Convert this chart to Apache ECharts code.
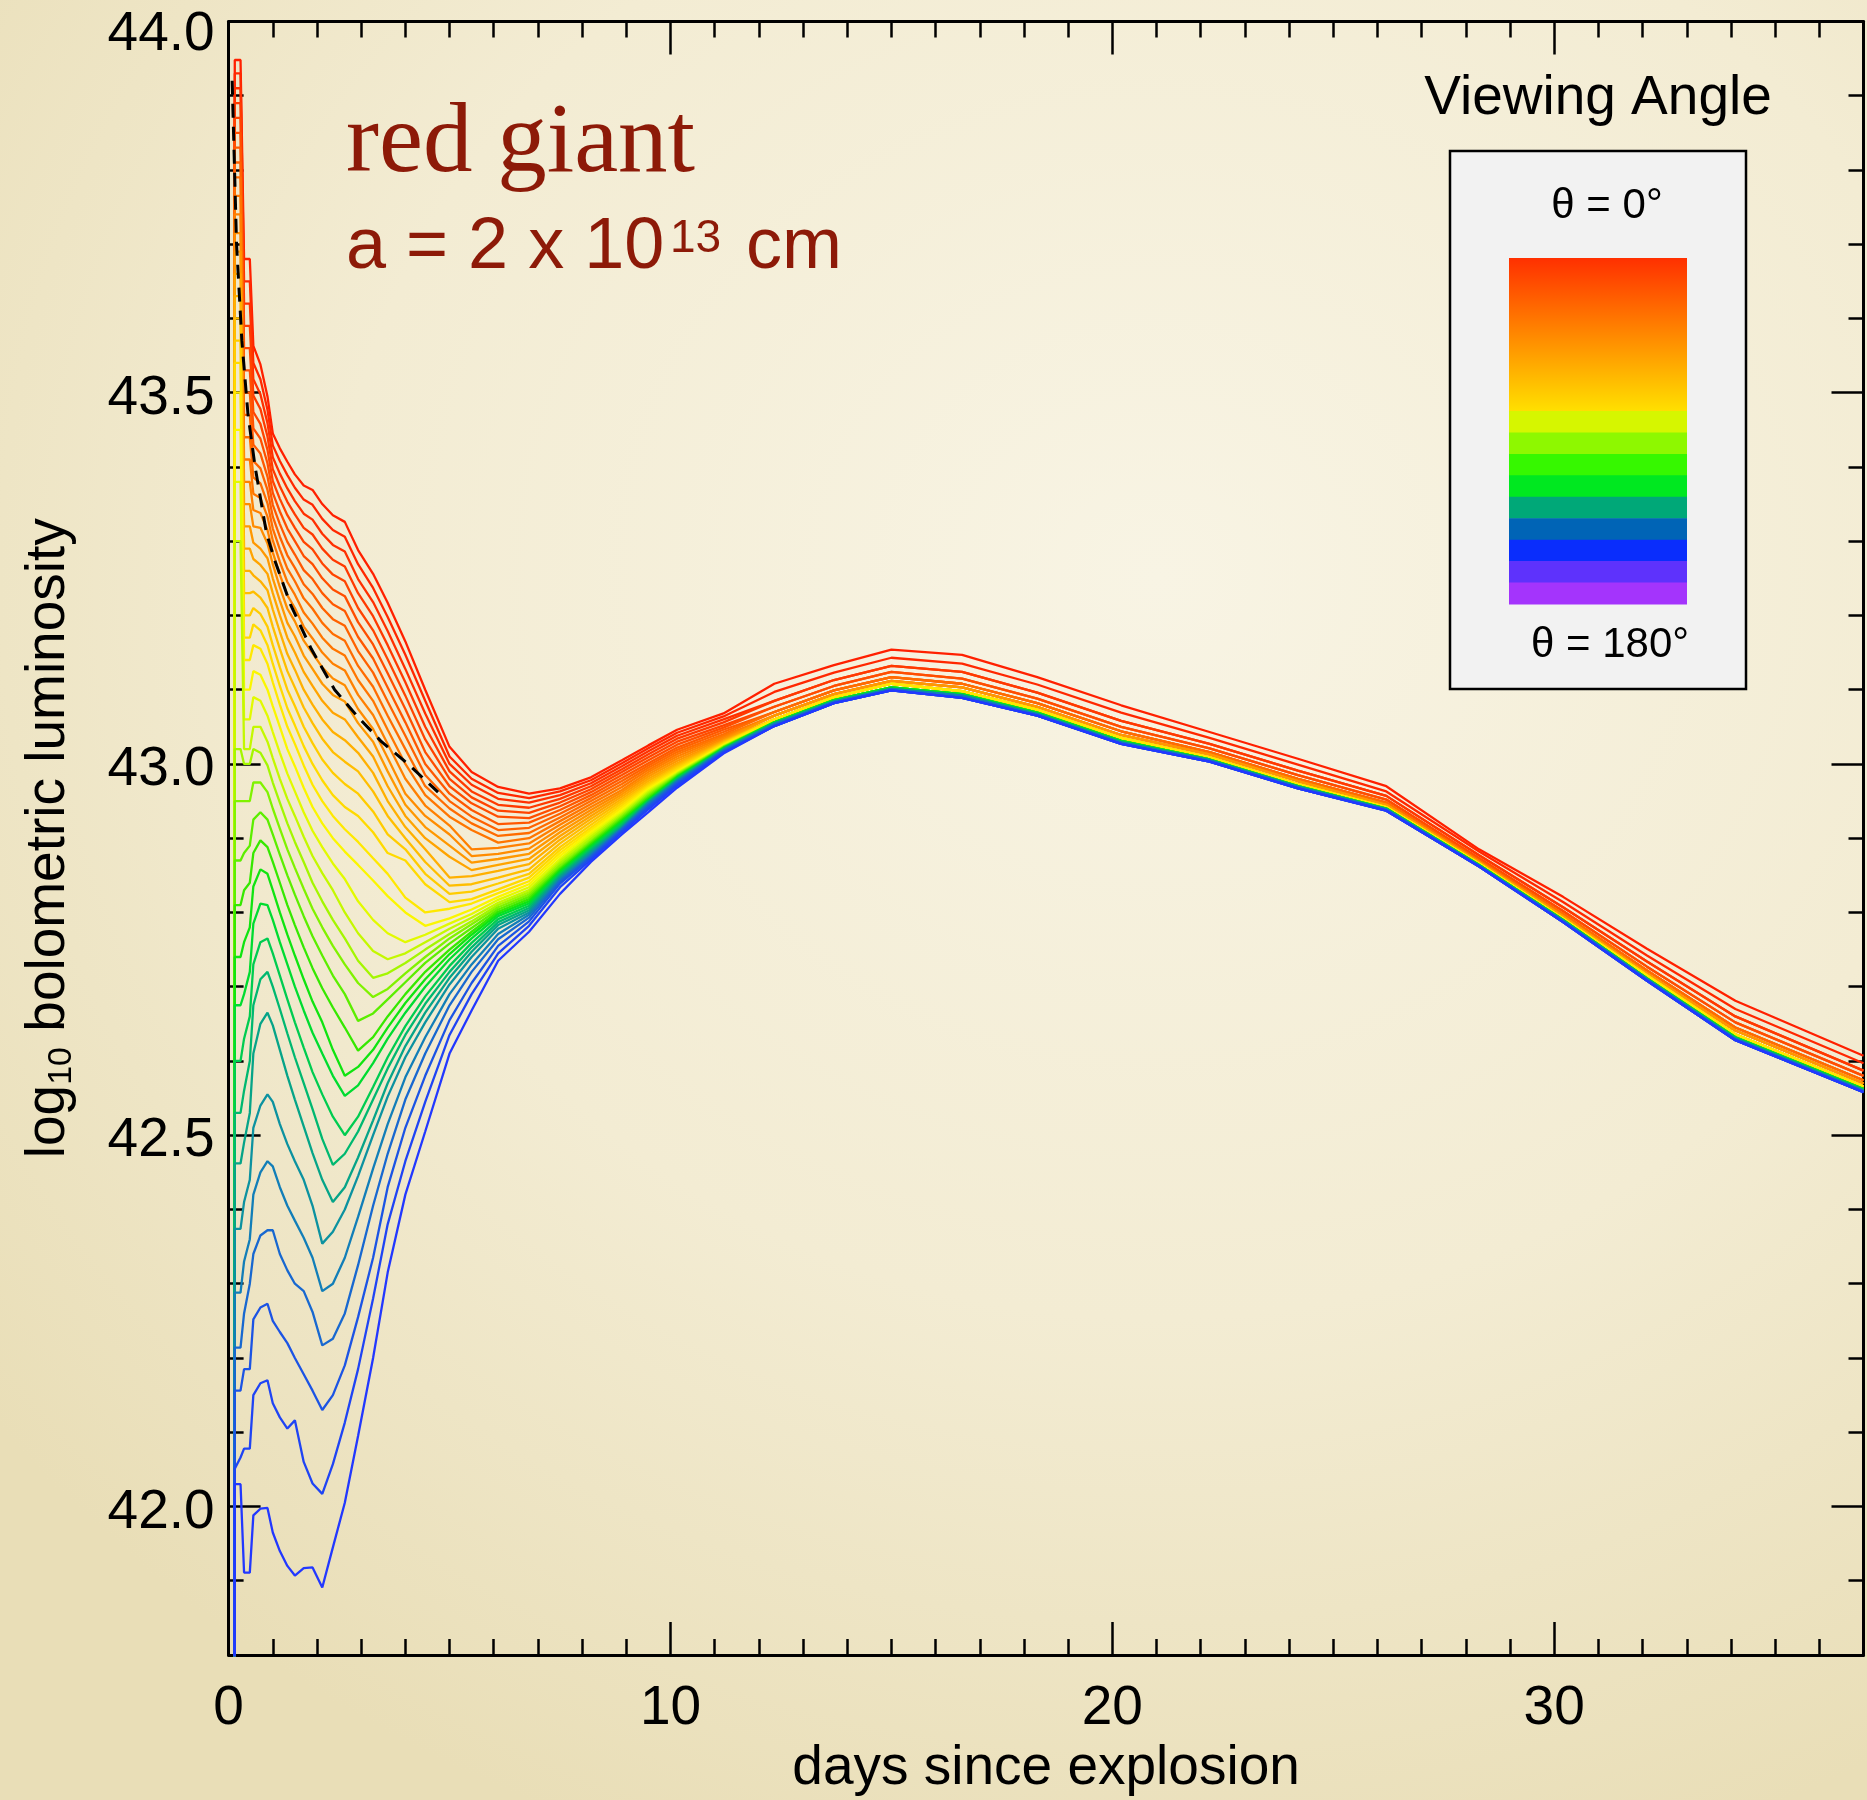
<!DOCTYPE html>
<html>
<head>
<meta charset="utf-8">
<script src="https://cdn.jsdelivr.net/npm/echarts@6/dist/echarts.min.js"></script>
<style>
  html, body { margin: 0; padding: 0; }
  body {
    width: 1867px; height: 1800px;
    background: radial-gradient(ellipse 80% 75% at 62% 32%, #f8f4e4 0%, #f3ecd3 55%, #e9deb7 100%);
  }
  #chart { width: 1867px; height: 1800px; }
</style>
</head>
<body>
<div id="chart"></div>
<script>
// time grid (days since explosion); curves rise from below the axis at the first step
const earlyDays = [0.13, 0.14, 0.27, 0.35, 0.48, 0.56, 0.72, 0.88, 1.0, 1.16, 1.33, 1.5, 1.7, 1.9,
  2.12, 2.36, 2.63, 2.93, 3.27, 3.6, 4.0, 4.45, 5.0, 5.5, 6.1, 6.8, 7.5, 8.2, 8.9, 9.5, 10.15, 11.2];
const lateDays = [12.35, 13.7, 15.0, 16.6, 18.3, 20.2, 22.2, 24.2, 26.2, 28.3, 30.2, 32.1, 34.1, 37.0];

// log10 L, early part of each viewing-angle curve (theta = 0 first)
const redCurves = [
  [41.5, 43.948, 43.948, 43.68, 43.68, 43.563, 43.538, 43.495, 43.445, 43.425, 43.407, 43.39, 43.375, 43.369, 43.35, 43.335, 43.326, 43.288, 43.256, 43.217, 43.165, 43.10, 43.023, 42.989, 42.969, 42.960, 42.967, 42.982, 43.005, 43.025, 43.046, 43.068],
  [41.5, 43.93, 43.93, 43.65, 43.65, 43.54, 43.518, 43.477, 43.429, 43.408, 43.389, 43.372, 43.356, 43.349, 43.33, 43.315, 43.306, 43.269, 43.237, 43.198, 43.147, 43.085, 43.01, 42.98, 42.961, 42.954, 42.963, 42.978, 43.001, 43.021, 43.042, 43.064],
  [41.5, 43.91, 43.91, 43.62, 43.62, 43.518, 43.498, 43.459, 43.413, 43.391, 43.371, 43.354, 43.337, 43.329, 43.31, 43.295, 43.286, 43.249, 43.218, 43.179, 43.128, 43.068, 43.0, 42.972, 42.953, 42.948, 42.958, 42.974, 42.997, 43.017, 43.038, 43.06],
  [41.5, 43.89, 43.89, 43.59, 43.59, 43.496, 43.478, 43.441, 43.397, 43.374, 43.353, 43.336, 43.318, 43.309, 43.29, 43.275, 43.266, 43.23, 43.199, 43.16, 43.11, 43.05, 42.99, 42.963, 42.945, 42.941, 42.953, 42.97, 42.993, 43.013, 43.034, 43.056],
  [41.5, 43.87, 43.87, 43.56, 43.56, 43.474, 43.458, 43.423, 43.381, 43.357, 43.335, 43.318, 43.299, 43.289, 43.27, 43.255, 43.246, 43.21, 43.18, 43.141, 43.092, 43.033, 42.98, 42.955, 42.937, 42.934, 42.948, 42.966, 42.989, 43.009, 43.03, 43.052],
  [41.5, 43.85, 43.85, 43.53, 43.53, 43.452, 43.438, 43.405, 43.365, 43.34, 43.317, 43.3, 43.28, 43.269, 43.25, 43.235, 43.226, 43.191, 43.161, 43.122, 43.074, 43.016, 42.97, 42.947, 42.929, 42.927, 42.943, 42.962, 42.985, 43.005, 43.026, 43.049],
  [41.5, 43.83, 43.83, 43.5, 43.5, 43.43, 43.418, 43.387, 43.349, 43.323, 43.299, 43.282, 43.261, 43.249, 43.23, 43.215, 43.206, 43.171, 43.142, 43.103, 43.056, 43.0, 42.96, 42.938, 42.919, 42.921, 42.938, 42.958, 42.981, 43.001, 43.022, 43.046],
  [41.5, 43.81, 43.81, 43.47, 43.47, 43.408, 43.398, 43.369, 43.333, 43.306, 43.281, 43.264, 43.242, 43.229, 43.21, 43.195, 43.186, 43.152, 43.123, 43.084, 43.038, 42.985, 42.95, 42.929, 42.911, 42.914, 42.933, 42.954, 42.977, 42.998, 43.019, 43.043],
  [41.5, 43.79, 43.79, 43.44, 43.44, 43.386, 43.378, 43.351, 43.317, 43.289, 43.263, 43.246, 43.223, 43.209, 43.19, 43.175, 43.166, 43.132, 43.104, 43.065, 43.02, 42.97, 42.94, 42.92, 42.903, 42.907, 42.928, 42.95, 42.973, 42.995, 43.016, 43.04],
  [41.5, 43.765, 43.765, 43.41, 43.41, 43.364, 43.358, 43.333, 43.301, 43.272, 43.245, 43.228, 43.204, 43.189, 43.17, 43.155, 43.146, 43.113, 43.085, 43.046, 43.0, 42.958, 42.929, 42.911, 42.894, 42.9, 42.923, 42.946, 42.969, 42.992, 43.013, 43.038],
  [41.5, 43.74, 43.74, 43.38, 43.38, 43.342, 43.338, 43.315, 43.285, 43.255, 43.227, 43.21, 43.185, 43.169, 43.15, 43.135, 43.126, 43.093, 43.066, 43.027, 42.98, 42.944, 42.917, 42.885, 42.887, 42.893, 42.918, 42.942, 42.965, 42.989, 43.01, 43.036],
  [41.5, 43.715, 43.715, 43.35, 43.35, 43.32, 43.318, 43.297, 43.269, 43.238, 43.209, 43.192, 43.166, 43.149, 43.13, 43.115, 43.106, 43.074, 43.047, 43.008, 42.96, 42.93, 42.905, 42.876, 42.879, 42.886, 42.913, 42.938, 42.962, 42.986, 43.007, 43.034]
];
const yellowCurves = [
  [41.5, 43.69, 43.69, 43.32, 43.32, 43.298, 43.29, 43.277, 43.25, 43.22, 43.19, 43.172, 43.146, 43.128, 43.108, 43.093, 43.084, 43.055, 43.03, 42.99, 42.945, 42.915, 42.89, 42.867, 42.872, 42.879, 42.908, 42.934, 42.959, 42.983, 43.004, 43.032],
  [41.5, 43.66, 43.66, 43.29, 43.29, 43.276, 43.268, 43.256, 43.23, 43.2, 43.17, 43.15, 43.124, 43.105, 43.085, 43.069, 43.06, 43.036, 43.01, 42.97, 42.93, 42.9, 42.875, 42.857, 42.864, 42.872, 42.903, 42.93, 42.956, 42.98, 43.001, 43.031],
  [41.5, 43.63, 43.63, 43.26, 43.26, 43.254, 43.246, 43.234, 43.208, 43.178, 43.148, 43.127, 43.1, 43.08, 43.06, 43.043, 43.032, 43.015, 42.988, 42.95, 42.915, 42.885, 42.847, 42.849, 42.856, 42.865, 42.898, 42.926, 42.953, 42.977, 42.999, 43.03],
  [41.5, 43.6, 43.6, 43.23, 43.23, 43.232, 43.224, 43.21, 43.185, 43.155, 43.125, 43.103, 43.076, 43.055, 43.034, 43.016, 43.003, 42.99, 42.963, 42.93, 42.9, 42.868, 42.836, 42.838, 42.847, 42.858, 42.893, 42.922, 42.95, 42.974, 42.997, 43.029],
  [41.5, 43.57, 43.57, 43.2, 43.2, 43.21, 43.202, 43.185, 43.16, 43.13, 43.1, 43.078, 43.05, 43.028, 43.006, 42.988, 42.973, 42.96, 42.936, 42.905, 42.885, 42.852, 42.825, 42.828, 42.839, 42.852, 42.888, 42.918, 42.947, 42.972, 42.995, 43.028],
  [41.5, 43.54, 43.54, 43.17, 43.17, 43.188, 43.18, 43.16, 43.135, 43.105, 43.075, 43.052, 43.024, 43.0, 42.978, 42.958, 42.942, 42.93, 42.908, 42.88, 42.87, 42.838, 42.814, 42.818, 42.831, 42.847, 42.884, 42.914, 42.944, 42.97, 42.993, 43.027],
  [41.5, 43.5, 43.5, 43.14, 43.14, 43.16, 43.155, 43.135, 43.11, 43.08, 43.05, 43.027, 42.998, 42.972, 42.95, 42.93, 42.912, 42.895, 42.873, 42.852, 42.82, 42.80, 42.805, 42.812, 42.826, 42.842, 42.88, 42.911, 42.941, 42.968, 42.991, 43.026],
  [41.5, 43.45, 43.45, 43.1, 43.1, 43.125, 43.12, 43.1, 43.078, 43.05, 43.02, 42.997, 42.968, 42.942, 42.92, 42.9, 42.882, 42.864, 42.843, 42.822, 42.80, 42.782, 42.792, 42.804, 42.821, 42.838, 42.876, 42.908, 42.938, 42.966, 42.989, 43.025],
  [41.5, 43.38, 43.38, 43.06, 43.06, 43.09, 43.085, 43.065, 43.043, 43.015, 42.987, 42.963, 42.935, 42.91, 42.888, 42.866, 42.845, 42.815, 42.79, 42.772, 42.76, 42.77, 42.785, 42.798, 42.817, 42.834, 42.872, 42.905, 42.935, 42.964, 42.988, 43.024],
  [41.5, 43.3, 43.3, 43.02, 43.02, 43.05, 43.05, 43.03, 43.008, 42.98, 42.953, 42.93, 42.902, 42.876, 42.853, 42.83, 42.8, 42.772, 42.748, 42.737, 42.745, 42.76, 42.778, 42.793, 42.813, 42.83, 42.869, 42.902, 42.933, 42.962, 42.987, 43.024]
];
const greenCurves = [
  [41.5, 43.02, 43.02, 43.0, 43.0, 43.02, 43.015, 42.998, 42.975, 42.948, 42.92, 42.895, 42.868, 42.84, 42.815, 42.79, 42.765, 42.735, 42.712, 42.718, 42.732, 42.75, 42.771, 42.788, 42.81, 42.827, 42.866, 42.899, 42.931, 42.96, 42.986, 43.023],
  [41.5, 42.95, 42.95, 42.95, 42.95, 42.975, 42.975, 42.962, 42.94, 42.913, 42.885, 42.86, 42.832, 42.805, 42.78, 42.755, 42.73, 42.705, 42.686, 42.697, 42.718, 42.74, 42.765, 42.784, 42.807, 42.824, 42.863, 42.896, 42.929, 42.958, 42.985, 43.023],
  [41.5, 42.87, 42.87, 42.88, 42.89, 42.925, 42.935, 42.925, 42.905, 42.878, 42.85, 42.824, 42.795, 42.768, 42.742, 42.715, 42.69, 42.654, 42.664, 42.683, 42.706, 42.732, 42.758, 42.779, 42.804, 42.821, 42.86, 42.894, 42.927, 42.956, 42.984, 43.022],
  [41.5, 42.81, 42.81, 42.83, 42.84, 42.88, 42.897, 42.888, 42.868, 42.84, 42.81, 42.783, 42.753, 42.725, 42.698, 42.672, 42.645, 42.614, 42.632, 42.66, 42.69, 42.72, 42.75, 42.774, 42.801, 42.818, 42.858, 42.892, 42.925, 42.954, 42.983, 43.022],
  [41.5, 42.74, 42.74, 42.76, 42.78, 42.835, 42.858, 42.852, 42.83, 42.8, 42.77, 42.742, 42.71, 42.68, 42.652, 42.615, 42.58, 42.592, 42.615, 42.645, 42.678, 42.71, 42.744, 42.77, 42.798, 42.815, 42.856, 42.89, 42.923, 42.952, 42.982, 43.021],
  [41.5, 42.675, 42.675, 42.69, 42.72, 42.785, 42.812, 42.81, 42.79, 42.76, 42.73, 42.7, 42.668, 42.638, 42.61, 42.58, 42.553, 42.567, 42.597, 42.63, 42.665, 42.7, 42.737, 42.765, 42.795, 42.812, 42.854, 42.888, 42.921, 42.951, 42.981, 43.021],
  [41.5, 42.6, 42.6, 42.63, 42.66, 42.73, 42.76, 42.765, 42.745, 42.715, 42.683, 42.652, 42.618, 42.585, 42.555, 42.525, 42.5, 42.525, 42.565, 42.605, 42.647, 42.687, 42.728, 42.759, 42.791, 42.809, 42.852, 42.886, 42.919, 42.95, 42.98, 43.02],
  [41.5, 42.53, 42.53, 42.56, 42.6, 42.675, 42.71, 42.72, 42.7, 42.67, 42.637, 42.605, 42.57, 42.535, 42.495, 42.46, 42.475, 42.505, 42.548, 42.59, 42.635, 42.677, 42.72, 42.753, 42.787, 42.806, 42.85, 42.884, 42.917, 42.949, 42.979, 43.02],
  [41.5, 42.462, 42.462, 42.49, 42.53, 42.61, 42.65, 42.665, 42.648, 42.615, 42.58, 42.548, 42.512, 42.476, 42.44, 42.41, 42.43, 42.47, 42.52, 42.57, 42.62, 42.665, 42.712, 42.747, 42.783, 42.803, 42.848, 42.882, 42.915, 42.948, 42.978, 43.019]
];
const blueCurves = [
  [41.5, 42.374, 42.374, 42.41, 42.44, 42.51, 42.54, 42.555, 42.545, 42.515, 42.488, 42.465, 42.44, 42.405, 42.354, 42.37, 42.4, 42.445, 42.5, 42.552, 42.605, 42.652, 42.703, 42.74, 42.778, 42.8, 42.846, 42.88, 42.914, 42.947, 42.977, 43.019],
  [41.5, 42.288, 42.288, 42.33, 42.36, 42.42, 42.45, 42.465, 42.458, 42.43, 42.405, 42.385, 42.362, 42.335, 42.29, 42.30, 42.335, 42.39, 42.455, 42.515, 42.578, 42.632, 42.69, 42.73, 42.771, 42.797, 42.844, 42.878, 42.913, 42.946, 42.976, 43.018],
  [41.5, 42.214, 42.214, 42.26, 42.30, 42.34, 42.365, 42.372, 42.372, 42.34, 42.318, 42.30, 42.29, 42.262, 42.217, 42.226, 42.26, 42.325, 42.405, 42.475, 42.548, 42.61, 42.675, 42.72, 42.764, 42.793, 42.842, 42.876, 42.912, 42.944, 42.975, 43.017],
  [41.5, 42.156, 42.156, 42.185, 42.185, 42.252, 42.268, 42.273, 42.25, 42.235, 42.22, 42.2, 42.178, 42.156, 42.13, 42.15, 42.19, 42.255, 42.335, 42.43, 42.51, 42.58, 42.655, 42.705, 42.755, 42.788, 42.839, 42.874, 42.91, 42.942, 42.973, 43.016],
  [41.5, 42.051, 42.066, 42.078, 42.078, 42.15, 42.166, 42.17, 42.139, 42.12, 42.105, 42.116, 42.06, 42.031, 42.017, 42.057, 42.113, 42.185, 42.28, 42.38, 42.465, 42.545, 42.635, 42.69, 42.745, 42.782, 42.834, 42.871, 42.908, 42.939, 42.971, 43.015],
  [41.5, 42.03, 42.03, 41.911, 41.911, 41.988, 41.997, 41.998, 41.965, 41.94, 41.92, 41.907, 41.917, 41.918, 41.891, 41.945, 42.005, 42.095, 42.2, 42.315, 42.42, 42.505, 42.61, 42.668, 42.735, 42.774, 42.825, 42.868, 42.905, 42.935, 42.968, 43.014]
];

// late-time tracks (curves are nearly on top of each other after ~12 days)
const lateA = [43.108, 43.133, 43.154, 43.147, 43.117, 43.079, 43.043, 43.007, 42.970, 42.885, 42.821, 42.751, 42.681, 42.607];
const lateB = [43.097, 43.123, 43.143, 43.135, 43.107, 43.069, 43.035, 42.999, 42.963, 42.882, 42.814, 42.742, 42.670, 42.597];
const lateC = [43.085, 43.113, 43.132, 43.124, 43.096, 43.058, 43.027, 42.991, 42.957, 42.877, 42.807, 42.734, 42.660, 42.587];
const lateD = [43.077, 43.105, 43.124, 43.115, 43.088, 43.050, 43.021, 42.985, 42.952, 42.873, 42.802, 42.727, 42.652, 42.580];
const lateE = [43.070, 43.099, 43.117, 43.108, 43.082, 43.044, 43.016, 42.980, 42.948, 42.870, 42.798, 42.722, 42.645, 42.574];
const lateF = [43.065, 43.094, 43.112, 43.103, 43.077, 43.039, 43.013, 42.977, 42.945, 42.868, 42.795, 42.718, 42.641, 42.570];
const lateG = [43.060, 43.090, 43.108, 43.098, 43.073, 43.035, 43.009, 42.973, 42.942, 42.866, 42.792, 42.715, 42.636, 42.566];
const lateH = [43.056, 43.086, 43.103, 43.094, 43.069, 43.031, 43.006, 42.970, 42.940, 42.864, 42.790, 42.711, 42.632, 42.562];
const lateJ = [43.054, 43.084, 43.101, 43.092, 43.067, 43.029, 43.005, 42.969, 42.939, 42.863, 42.789, 42.710, 42.630, 42.560];
const lateI = [43.051, 43.082, 43.099, 43.089, 43.065, 43.027, 43.003, 42.967, 42.937, 42.862, 42.787, 42.708, 42.628, 42.558];
const lateTrack = { A: lateA, B: lateB, C: lateC, D: lateD, E: lateE, F: lateF, G: lateG, H: lateH, J: lateJ, I: lateI };
const lateTrackOfCurve = 'ABCCDDEEEFFFFGGGGGGHHHHHHHHHJJJJJIIII';

// spherical reference model (dashed)
const dashedDays = [0.08, 0.18, 0.30, 0.44, 0.60, 0.86, 1.04, 1.40, 1.87, 2.40, 2.93, 3.46, 4.06, 4.74];
const dashedLum = [43.92, 43.70, 43.57, 43.47, 43.40, 43.31, 43.275, 43.215, 43.155, 43.10, 43.063, 43.03, 43.0, 42.962];

const curveColors = [
  '#ff2000', '#ff2800', '#ff3000', '#ff3a00', '#ff4400', '#ff4e00', '#ff5800', '#ff6200', '#ff6c00', '#ff7600',
  '#ff8000', '#ff8c00', '#ff9800', '#ffa400', '#ffb000', '#ffbe00', '#ffcc00', '#ffda00', '#ffe800', '#fbf600',
  '#e2fa00', '#c4f800', '#a4f600', '#80f200', '#5cee00', '#36e800', '#10e410', '#00dc30', '#00cc50', '#00b870',
  '#06a488', '#0c92a0', '#127eb8', '#1868d0', '#1c54e4', '#1f44f4', '#2238ff'
];
const barBands = ['#d6f600', '#8ef800', '#36f800', '#00e820', '#00a878', '#0064b6', '#0a2dfc', '#5e32fc', '#a434fc'];

const xMajor = [0, 10, 20, 30];
const yMajor = [42.0, 42.5, 43.0, 43.5, 44.0];

const FONT = '"Liberation Sans", Arial, Helvetica, sans-serif';
const chart = echarts.init(document.getElementById('chart'));

const days = earlyDays.concat(lateDays);
const allCurves = redCurves.concat(yellowCurves, greenCurves, blueCurves);

const series = allCurves.map((early, k) => {
  const lum = early.concat(lateTrack[lateTrackOfCurve[k]]);
  return {
    type: 'line',
    data: days.map((d, i) => [d, lum[i]]),
    showSymbol: false,
    symbol: 'none',
    silent: true,
    clip: true,
    lineStyle: { color: curveColors[k], width: 2.3 },
    itemStyle: { color: curveColors[k] }
  };
});
series.push({
  type: 'line',
  data: dashedDays.map((d, i) => [d, dashedLum[i]]),
  showSymbol: false,
  symbol: 'none',
  silent: true,
  z: 3,
  lineStyle: { color: '#000', width: 3, type: [14, 9] }
});

function xAxisDef(position, major, withLabels) {
  const base = {
    type: 'value', position, min: 0, max: 37,
    splitLine: { show: false },
    axisLine: { show: major, onZero: false, lineStyle: { color: '#000', width: 3 } }
  };
  if (major) {
    base.axisTick = { show: true, inside: true, length: 33, customValues: xMajor, lineStyle: { color: '#000', width: 2.5 } };
    base.axisLabel = withLabels
      ? { show: true, customValues: xMajor, margin: 26, fontSize: 55, fontFamily: FONT, color: '#000' }
      : { show: false };
  } else {
    base.interval = 1;
    base.axisTick = { show: true, inside: true, length: 16, lineStyle: { color: '#000', width: 2.5 } };
    base.axisLabel = { show: false };
  }
  return base;
}
function yAxisDef(position, major, withLabels) {
  const base = {
    type: 'value', position, min: 41.8, max: 44.0,
    splitLine: { show: false },
    axisLine: { show: major, onZero: false, lineStyle: { color: '#000', width: 3 } }
  };
  if (major) {
    base.axisTick = { show: true, inside: true, length: 32, customValues: yMajor, lineStyle: { color: '#000', width: 2.5 } };
    base.axisLabel = withLabels
      ? { show: true, customValues: yMajor, margin: 14, fontSize: 55, fontFamily: FONT, color: '#000',
          padding: [12, 0, 0, 0],
          formatter: v => (v >= 43.99 ? '{top|' + Number(v).toFixed(1) + '}' : Number(v).toFixed(1)),
          rich: { top: { fontSize: 55, fontFamily: FONT, color: '#000', padding: [14, 0, 0, 0] } } }
      : { show: false };
  } else {
    base.interval = 0.1;
    base.axisTick = { show: true, inside: true, length: 15, lineStyle: { color: '#000', width: 2.5 } };
    base.axisLabel = { show: false };
  }
  return base;
}

const xBottom = xAxisDef('bottom', true, true);
xBottom.name = 'days since explosion';
xBottom.nameLocation = 'middle';
xBottom.nameGap = 83;
xBottom.nameTextStyle = { fontSize: 55, fontFamily: FONT, color: '#000' };

const yLeft = yAxisDef('left', true, true);
yLeft.name = '{m|log}{s|10}{m| bolometric luminosity}';
yLeft.nameLocation = 'middle';
yLeft.nameGap = 150;
yLeft.nameTextStyle = {
  fontSize: 55, fontFamily: FONT, color: '#000',
  rich: {
    m: { fontSize: 55, fontFamily: FONT, color: '#000', lineHeight: 60 },
    s: { fontSize: 34, fontFamily: FONT, color: '#000', lineHeight: 20, verticalAlign: 'bottom' }
  }
};

// colour bar inside the legend box
const barX = 1509, barW = 178, barTop = 258, gradH = 153, bandH = 21.44;
const RED_TEXT = '#8d1a08';
const legendGraphics = [
  { type: 'text', z: 10, style: { x: 346, y: 145, text: 'red giant', fill: RED_TEXT,
      font: '99px "Liberation Serif", "Times New Roman", serif', textAlign: 'left', textVerticalAlign: 'middle' } },
  { type: 'text', z: 10, style: { x: 346, y: 248, text: 'a = 2 x 10', fill: RED_TEXT,
      font: '72px ' + FONT, textAlign: 'left', textVerticalAlign: 'middle' } },
  { type: 'text', z: 10, style: { x: 670, y: 239, text: '13', fill: RED_TEXT,
      font: '46px ' + FONT, textAlign: 'left', textVerticalAlign: 'middle' } },
  { type: 'text', z: 10, style: { x: 746, y: 248, text: 'cm', fill: RED_TEXT,
      font: '72px ' + FONT, textAlign: 'left', textVerticalAlign: 'middle' } },
  { type: 'text', z: 10, style: { x: 1598, y: 99, text: 'Viewing Angle', fill: '#000',
      font: '55px ' + FONT, textAlign: 'center', textVerticalAlign: 'middle' } },
  { type: 'rect', z: 10, shape: { x: 1450, y: 151, width: 296, height: 538 },
    style: { fill: '#f2f2f2', stroke: '#000', lineWidth: 2.5 } },
  { type: 'text', z: 11, style: { x: 1607, y: 206, text: 'θ = 0°', fill: '#000',
      font: '42px ' + FONT, textAlign: 'center', textVerticalAlign: 'middle' } },
  { type: 'text', z: 11, style: { x: 1610, y: 645, text: 'θ = 180°', fill: '#000',
      font: '42px ' + FONT, textAlign: 'center', textVerticalAlign: 'middle' } },
  { type: 'rect', z: 11, shape: { x: barX, y: barTop, width: barW, height: gradH + 0.5 },
    style: { fill: new echarts.graphic.LinearGradient(0, 0, 0, 1, [
      { offset: 0, color: '#ff3000' }, { offset: 0.5, color: '#ff8800' }, { offset: 1, color: '#ffe000' }]) } }
];
barBands.forEach((c, i) => {
  legendGraphics.push({ type: 'rect', z: 11,
    shape: { x: barX, y: barTop + gradH + i * bandH, width: barW, height: bandH + 0.6 },
    style: { fill: c } });
});

chart.setOption({
  animation: false,
  backgroundColor: 'transparent',
  grid: { left: 228.6, right: 3.5, top: 21.4, bottom: 145, containLabel: false, outerBoundsMode: 'none' },
  xAxis: [xBottom, xAxisDef('bottom', false), xAxisDef('top', true, false), xAxisDef('top', false)],
  yAxis: [yLeft, yAxisDef('left', false), yAxisDef('right', true, false), yAxisDef('right', false)],
  series,
  graphic: legendGraphics
});
</script>
</body>
</html>
